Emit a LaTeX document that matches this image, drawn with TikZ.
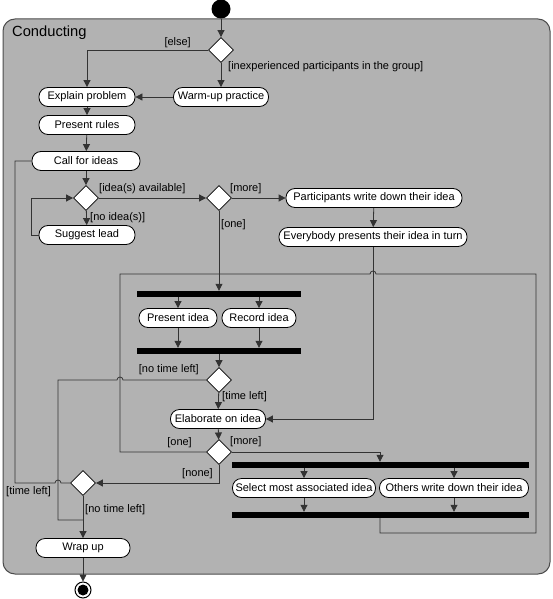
\documentclass[tikz,border=0pt]{standalone}
\usepackage{fontspec}
\setmainfont{Liberation Sans}
\usetikzlibrary{shapes.geometric,arrows.meta}

\tikzset{
  action/.style={draw=black, line width=0.8pt, fill=white, rounded corners=9pt, minimum height=19pt, inner sep=1pt, font=\fontsize{11}{13}\selectfont},
  decision/.style={draw=black, line width=0.8pt, fill=white, diamond, minimum size=25pt, inner sep=0pt},
  bar/.style={fill=black, minimum height=6pt, inner sep=0pt},
  flow/.style={draw=black!80, line width=0.8pt, -{Triangle[length=7pt,width=7pt]}},
  wire/.style={draw=black!80, line width=0.8pt},
  guard/.style={font=\fontsize{11}{13}\selectfont, inner sep=0pt},
}

\begin{document}
\begin{tikzpicture}[x=1pt,y=-1pt]
\useasboundingbox (0,0) rectangle (553,599);

%draw the activity frame
\draw[draw=black!70, fill=black!30, line width=1pt, rounded corners=12pt] (3,19) rectangle (550,574);
\node[anchor=west, inner sep=0pt, font=\fontsize{14.7}{16}\selectfont] (title) at (12,33) {Conducting};

%draw start and end
\node[circle, fill=black, minimum size=19pt, inner sep=0pt] (start) at (221,9) {};
\node[circle, draw=black, line width=1pt, fill=white, minimum size=16pt, inner sep=0pt] (end) at (83,590) {};
\node[circle, fill=black, minimum size=11pt, inner sep=0pt] (enddot) at (end) {};

%draw actions
\node[action, minimum width=96pt] (explain) at (87,97) {Explain problem};
\node[action, minimum width=95pt] (warmup) at (221,97) {Warm-up practice};
\node[action, minimum width=96pt] (rules) at (87,125) {Present rules};
\node[action, minimum width=108pt] (call) at (86,161) {Call for ideas};
\node[action, minimum width=96pt] (lead) at (87,235) {Suggest lead};
\node[action, minimum width=176pt] (write) at (374,198) {Participants write down their idea};
\node[action, minimum width=188pt] (present) at (373,237) {Everybody presents their idea in turn};
\node[action, minimum width=78pt] (pidea) at (178,318) {Present idea};
\node[action, minimum width=74pt] (ridea) at (259,318) {Record idea};
\node[action, minimum width=95pt] (elab) at (218,419) {Elaborate on idea};
\node[action, minimum width=143pt] (select) at (304,488) {Select most associated idea};
\node[action, minimum width=149pt] (others) at (454,488) {Others write down their idea};
\node[action, minimum width=94pt] (wrap) at (83,548) {Wrap up};

%draw decisions
\node[decision] (d1) at (221,50) {};
\node[decision] (d2) at (86,198) {};
\node[decision] (d3) at (219,198) {};
\node[decision] (d4) at (219,380) {};
\node[decision] (d5) at (219,452) {};
\node[decision] (d6) at (83,483) {};

%draw fork and join bars
\node[bar, minimum width=164pt] (fork1) at (219,294) {};
\node[bar, minimum width=164pt] (join1) at (219,351) {};
\node[bar, minimum width=297pt] (fork2) at (380,465) {};
\node[bar, minimum width=297pt] (join2) at (380,515) {};

%corners of the loops
\coordinate (onecorner) at (120,274);
\coordinate (backcorner) at (536,274);
\coordinate (backbottom) at (536,533);
\coordinate (wrapjoin) at (83,520);

%draw the flow
\draw[flow] (start) -- (d1);
\draw[flow] (d1.west) -| (explain.north);
\draw[flow] (d1) -- (warmup);
\draw[flow] (warmup) -- (explain);
\draw[flow] (explain) -- (rules);
\draw[flow] (rules) -- (call);
\draw[flow] (call) -- (d2);
\draw[flow] (d2) -- (d3);
\draw[flow] (d2) -- (lead);
\draw[flow] (lead.west) -- ++(-7,0) |- (d2.west);
\draw[flow] (d3) -- (write);
\draw[flow] (write) -- (present);
\draw[flow] (d3) -- (fork1);
\draw[flow] (present.south) -- (present.south |- elab) -- (elab.east);
\draw[flow] (fork1.south -| pidea) -- (pidea);
\draw[flow] (fork1.south -| ridea) -- (ridea);
\draw[flow] (pidea) -- (pidea |- join1.north);
\draw[flow] (ridea) -- (ridea |- join1.north);
\draw[flow] (join1) -- (d4);
\draw[flow] (d4) -- (elab);
\draw[flow] (elab) -- (d5);
\draw[flow] (d5.east) -| (fork2.north);
\draw[flow] (fork2.south -| select) -- (select);
\draw[flow] (fork2.south -| others) -- (others);
\draw[flow] (select) -- (select |- join2.north);
\draw[flow] (others) -- (others |- join2.north);
\draw[flow] (d5.south) |- (d6.east);
\draw[flow] (d6) -- (wrap);
\draw[flow] (wrap) -- (end);

%loops back with hops
\draw[wire] (d5.west) -| (onecorner) -- (370,274) arc[start angle=180, end angle=0, radius=3pt] -- (backcorner) -- (backbottom) -| (join2.south);
\draw[wire] (d4.west) -- (123,380) arc[start angle=0, end angle=180, radius=3pt] -- (58,380) |- (wrapjoin);
\draw[wire] (d6.west) -- (61,483) arc[start angle=0, end angle=180, radius=3pt] -- (15,483) |- (call.west);

%draw guards
\node[guard, anchor=east] (gelse) at (191,43) {[else]};
\node[guard, anchor=west] (ginexp) at (228,67) {[inexperienced participants in the group]};
\node[guard, anchor=west] (gavail) at (99,189) {[idea(s) available]};
\node[guard, anchor=west] (gnoidea) at (90,218) {[no idea(s)]};
\node[guard, anchor=west] (gmore1) at (230,189) {[more]};
\node[guard, anchor=west] (gone1) at (221,225) {[one]};
\node[guard, anchor=east] (gnotime1) at (199,370) {[no time left]};
\node[guard, anchor=west] (gtime1) at (222,397) {[time left]};
\node[guard, anchor=east] (gone2) at (192,443) {[one]};
\node[guard, anchor=west] (gmore2) at (230,442) {[more]};
\node[guard, anchor=east] (gnone) at (213,474) {[none]};
\node[guard, anchor=west] (gtime2) at (6,492) {[time left]};
\node[guard, anchor=west] (gnotime2) at (85,510) {[no time left]};
\end{tikzpicture}
\end{document}
